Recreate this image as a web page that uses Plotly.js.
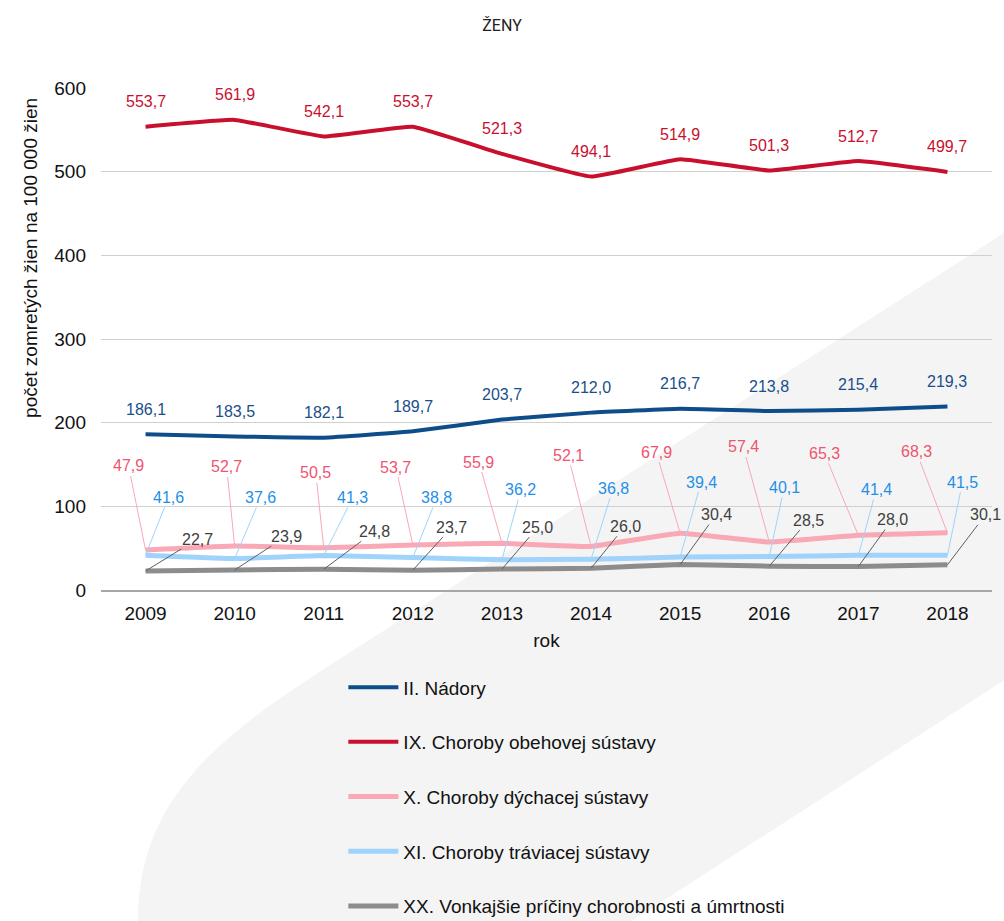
<!DOCTYPE html>
<html>
<head>
<meta charset="utf-8">
<script src="https://cdn.plot.ly/plotly-3.0.1.min.js"></script>
<style>
  html, body { margin: 0; padding: 0; background: #ffffff; }
  #chart { width: 1004px; height: 921px; }
</style>
</head>
<body>
<div id="chart"></div>
<script>
// ---- data ----
const years = [2009, 2010, 2011, 2012, 2013, 2014, 2015, 2016, 2017, 2018];
const seriesNames = [
  "II. Nádory",
  "IX. Choroby obehovej sústavy",
  "X. Choroby dýchacej sústavy",
  "XI. Choroby tráviacej sústavy",
  "XX. Vonkajšie príčiny chorobnosti a úmrtnosti"
];
const nadory   = [186.1, 183.5, 182.1, 189.7, 203.7, 212.0, 216.7, 213.8, 215.4, 219.3];
const obehova  = [553.7, 561.9, 542.1, 553.7, 521.3, 494.1, 514.9, 501.3, 512.7, 499.7];
const dychacia = [47.9, 52.7, 50.5, 53.7, 55.9, 52.1, 67.9, 57.4, 65.3, 68.3];
const traviaca = [41.6, 37.6, 41.3, 38.8, 36.2, 36.8, 39.4, 40.1, 41.4, 41.5];
const vonkajsie = [22.7, 23.9, 24.8, 23.7, 25.0, 26.0, 30.4, 28.5, 28.0, 30.1];
const yTicks = [0, 100, 200, 300, 400, 500, 600];

// ---- styling / label placement (pixels) ----
const lineColors = ["#0d4d8a", "#c8102e", "#f9a8b6", "#9fd3fb", "#8c8c8c"];
const lineWidths = [4, 4, 5, 5, 5];
const labelColors = ["#1a4f8b", "#c8102e", "#ef5470", "#1f8fe8", "#404040"];
const pinkOffX = [-17, -8, -8, -17, -23, -23, -24, -26, -34, -31];
const pinkOffY = [-84, -79, -75, -78, -81, -91, -81, -95, -82, -81];
const blueOffX = [23, 26, 29, 24, 19, 22, 21, 15, 18, 15];
const blueOffY = [-58, -61, -58, -60, -70, -71, -75, -69, -66, -73];
const grayOffX = [52, 52, 51, 39, 36, 34, 36, 39, 34, 38];
const grayOffY = [-32, -34, -38, -43, -42, -42, -50, -46, -47, -50];

const FONT = "Liberation Sans, Arial, sans-serif";
const fmt = v => v.toFixed(1).replace(".", ",");
const allSeries = [nadory, obehova, dychacia, traviaca, vonkajsie];

const traces = allSeries.map((vals, i) => ({
  x: years,
  y: vals,
  name: seriesNames[i],
  type: "scatter",
  mode: "lines",
  legendgroup: "g" + i,
  line: { color: lineColors[i], width: lineWidths[i], shape: "spline", smoothing: 0.3 },
  hoverinfo: "skip"
}));

const annotations = [];
// labels directly above (no leader)
[0, 1].forEach(si => {
  allSeries[si].forEach((v, j) => {
    annotations.push({
      x: years[j], y: v, xref: "x", yref: "y",
      text: fmt(v), showarrow: false, yshift: 25,
      font: { family: FONT, size: 16, color: labelColors[si] }
    });
  });
});
// labels with leader lines
const leader = [
  { si: 2, ox: pinkOffX, oy: pinkOffY },
  { si: 3, ox: blueOffX, oy: blueOffY },
  { si: 4, ox: grayOffX, oy: grayOffY }
];
leader.forEach(d => {
  allSeries[d.si].forEach((v, j) => {
    annotations.push({
      x: years[j], y: v, xref: "x", yref: "y",
      text: fmt(v), showarrow: true, arrowhead: 0, arrowwidth: 1,
      arrowcolor: d.si === 4 ? "#606060" : lineColors[d.si],
      ax: d.ox[j], ay: d.oy[j], standoff: 0,
      font: { family: FONT, size: 16, color: labelColors[d.si] }
    });
  });
});
// y axis title
annotations.push({
  xref: "paper", yref: "paper", x: -0.094, y: 0.661,
  text: "počet zomretých žien na 100 000 žien",
  textangle: -90, showarrow: false,
  font: { family: FONT, size: 19, color: "#111111" }
});

// background decorative band (paper coords)
const bandPath = "M 0.04153,-0.65936 C 0.04153,-0.39841 0.14478,-0.27490 0.29068,-0.11155 " +
                 "L 1.06958,0.77490 L 1.06958,-0.11554 L 0.59596,-0.65936 Z";

const layout = {
  width: 1004, height: 921,
  margin: { l: 101, r: 12, t: 88, b: 331, autoexpand: false },
  paper_bgcolor: "#ffffff",
  plot_bgcolor: "rgba(0,0,0,0)",
  font: { family: FONT, color: "#111111" },
  title: {
    text: "ŽENY", x: 0.5, xref: "container", y: 0.978, yref: "container",
    font: { family: "Roboto, Liberation Sans, sans-serif", size: 16, color: "#222222" }
  },
  xaxis: {
    type: "linear",
    range: [2008.5, 2018.5],
    tickvals: years,
    tickformat: "d",
    showgrid: false, zeroline: false,
    showline: true, linecolor: "#a6a6a6", linewidth: 1.5,
    ticks: "", ticklabelstandoff: 6,
    tickfont: { size: 19, color: "#111111" },
    title: { text: "rok", font: { size: 19, color: "#111111" }, standoff: 10 },
    fixedrange: true
  },
  yaxis: {
    range: [0, 600],
    tickvals: yTicks,
    showgrid: true, gridcolor: "#d0d0d0", gridwidth: 1,
    zeroline: false, showline: false,
    ticks: "", ticklabelstandoff: 14,
    tickfont: { size: 19, color: "#111111" },
    fixedrange: true
  },
  showlegend: true,
  legend: {
    x: 0.272, y: -0.156, xanchor: "left", yanchor: "top",
    bgcolor: "rgba(0,0,0,0)",
    font: { size: 19, color: "#111111" },
    tracegroupgap: 27,
    itemwidth: 50,
    traceorder: "grouped"
  },
  shapes: [{
    type: "path", xref: "paper", yref: "paper", layer: "below",
    path: bandPath, fillcolor: "#f4f4f4", line: { width: 0 }
  }],
  annotations: annotations
};

Plotly.newPlot("chart", traces, layout, { displayModeBar: false, staticPlot: true });
</script>
</body>
</html>
